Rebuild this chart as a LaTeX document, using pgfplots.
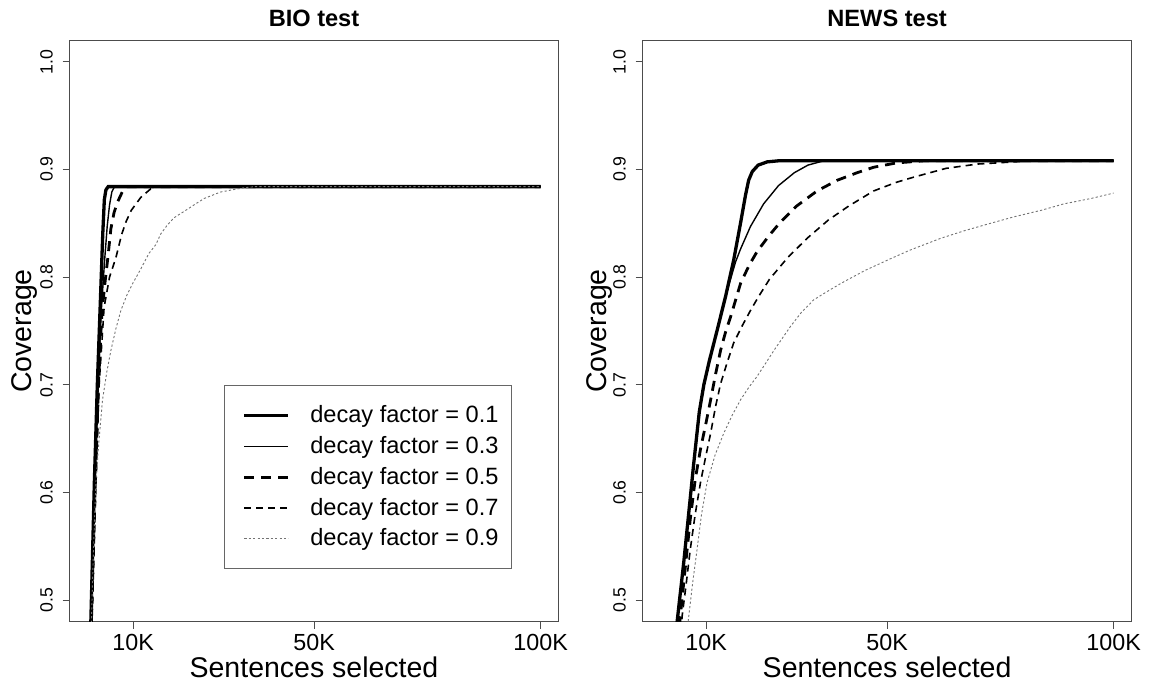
\documentclass[border=0pt]{standalone}
\usepackage{pgfplots}
\pgfplotsset{compat=1.18}
\usepackage{fontspec}
\setmainfont{Liberation Sans}
\begin{document}
\begin{tikzpicture}
\useasboundingbox (0,0) rectangle (577pt,342pt);
\pgfplotsset{
  panel/.style={
    scale only axis, width=244.5pt, height=290.75pt,
    xmin=-4, xmax=104, ymin=0.48, ymax=1.02,
    axis line style={black!70, line width=0.5pt},
    xtick={10,50,100}, xticklabels={10K,50K,100K},
    ytick={0.5,0.6,0.7,0.8,0.9,1.0}, yticklabels={0.5,0.6,0.7,0.8,0.9,1.0},
    tick align=outside, major tick length=3.5pt, tick pos=left,
    tick style={black!70, line width=0.5pt},
    xticklabel style={font=\fontsize{11.65pt}{12pt}\selectfont, anchor=base, inner sep=0pt},
    yticklabel style={font=\fontsize{8.85pt}{9pt}\selectfont, rotate=90, anchor=base, inner sep=0pt},
    xticklabel shift=10.65pt, yticklabel shift=5pt,
  },
  d1/.style={black, line width=1.65pt},
  d3/.style={black, line width=0.7pt},
  d5/.style={black, line width=1.4pt, dash pattern=on 5pt off 3.5pt},
  d7/.style={black, line width=0.8pt, dash pattern=on 3.5pt off 2.5pt},
  d9/.style={black!55, line width=0.45pt, dash pattern=on 1.1pt off 1.1pt},
}
\begin{axis}[panel, at={(34.85pt,31.15pt)},
  legend style={at={(0.3155,0.407)}, anchor=north west, draw=black!60, line width=0.5pt, fill=white,
    inner xsep=6.25pt, inner ysep=10pt, row sep=5.35pt, column sep=10.15pt,
    font=\fontsize{11.8pt}{14pt}\selectfont, nodes={inner sep=0pt}},
  legend cell align=left,
  legend image code/.code={\path (-2.85pt,0pt); \draw[#1] (0pt,0pt) -- (22pt,0pt);},
]
\addplot[d1] coordinates {(0.3,0.43) (0.67,0.48) (1.45,0.61) (2.1,0.70) (2.75,0.775) (3.3,0.84) (3.65,0.872) (4.0,0.881) (4.5,0.884) (100,0.884)};
\addlegendentry{decay factor = 0.1}
\addplot[d3] coordinates {(0.35,0.43) (0.72,0.48) (1.55,0.61) (2.25,0.70) (3.0,0.77) (3.7,0.815) (4.3,0.848) (4.8,0.867) (5.3,0.879) (5.9,0.884) (100,0.884)};
\addlegendentry{decay factor = 0.3}
\addplot[d5] coordinates {(0.4,0.43) (0.78,0.48) (1.65,0.61) (2.35,0.70) (3.1,0.766) (3.8,0.795) (4.4,0.817) (5.1,0.845) (5.8,0.860) (6.6,0.870) (7.6,0.879) (8.6,0.884) (100,0.884)};
\addlegendentry{decay factor = 0.5}
\addplot[d7] coordinates {(0.6,0.43) (0.95,0.48) (1.75,0.60) (2.5,0.70) (3.6,0.772) (4.8,0.800) (6.2,0.818) (7.5,0.840) (8.5,0.852) (9.6,0.862) (11.7,0.874) (13.9,0.882) (15.5,0.884) (100,0.884)};
\addlegendentry{decay factor = 0.7}
\addplot[d9] coordinates {(0.55,0.43) (0.8,0.48) (1.2,0.54) (1.78,0.609) (2.5,0.65) (3.25,0.686) (4.2,0.712) (5.1,0.732) (6.2,0.752) (7.3,0.769) (8.6,0.783) (9.9,0.794) (11.5,0.806) (13.5,0.822) (15.0,0.830) (16.1,0.840) (17.5,0.848) (19.0,0.855) (20.5,0.859) (22.0,0.863) (23.8,0.868) (25.7,0.873) (27.5,0.876) (29.3,0.879) (31.9,0.881) (34.5,0.883) (37,0.884) (100,0.884)};
\addlegendentry{decay factor = 0.9}
\end{axis}
\begin{axis}[panel, at={(321.35pt,31.15pt)}]
\addplot[d1] coordinates {(3.3,0.46) (3.6,0.48) (5.06,0.535) (6.17,0.581) (7.27,0.627) (8.5,0.675) (9.5,0.700) (10.7,0.722) (12.4,0.750) (14.3,0.782) (16.1,0.816) (17.6,0.850) (18.7,0.876) (19.4,0.890) (20.2,0.898) (21.5,0.904) (23.5,0.907) (26,0.908) (100,0.908)};
\addplot[d3] coordinates {(3.35,0.46) (3.65,0.48) (5.1,0.535) (6.2,0.581) (7.3,0.627) (8.5,0.673) (9.5,0.699) (10.7,0.722) (12.4,0.750) (13.5,0.768) (14.5,0.785) (15.4,0.798) (16.5,0.814) (17.6,0.826) (19.8,0.847) (22.7,0.868) (26,0.885) (29.5,0.897) (32.5,0.904) (36,0.908) (100,0.908)};
\addplot[d5] coordinates {(3.9,0.46) (4.3,0.485) (5.4,0.53) (6.5,0.575) (7.6,0.612) (8.75,0.640) (10.0,0.665) (11.0,0.686) (12.1,0.710) (13.2,0.732) (14.3,0.749) (15.4,0.763) (17.6,0.794) (19.5,0.811) (21.3,0.824) (24,0.839) (26.4,0.851) (30,0.866) (34.5,0.880) (39,0.890) (43.4,0.897) (47,0.902) (52,0.906) (58,0.908) (100,0.908)};
\addplot[d7] coordinates {(4.3,0.46) (4.7,0.485) (5.6,0.515) (6.5,0.547) (7.6,0.58) (8.75,0.609) (9.9,0.633) (11.0,0.655) (12.1,0.68) (13.2,0.701) (14.6,0.72) (16.1,0.739) (18,0.755) (19.8,0.769) (21.6,0.782) (24,0.798) (28,0.818) (32.3,0.836) (37,0.853) (41.5,0.866) (47,0.880) (52,0.888) (56,0.893) (63,0.901) (70,0.905) (78,0.907) (82,0.908) (100,0.908)};
\addplot[d9] coordinates {(5.5,0.46) (6.17,0.485) (7.0,0.515) (8.0,0.547) (9.0,0.58) (10.2,0.609) (12,0.635) (13.9,0.655) (15.8,0.672) (17.6,0.686) (19.5,0.698) (21.3,0.708) (25,0.732) (28.6,0.754) (31,0.767) (33.8,0.779) (36.5,0.786) (39.7,0.794) (45,0.806) (50.7,0.817) (55,0.825) (61.8,0.836) (67,0.843) (72,0.849) (78,0.856) (84,0.862) (89,0.868) (95,0.873) (100,0.878)};
\end{axis}
\node[font=\bfseries\fontsize{11.8pt}{12pt}\selectfont, anchor=base] at (157pt,328.9pt) {BIO test};
\node[font=\bfseries\fontsize{11.8pt}{12pt}\selectfont, anchor=base] at (443.55pt,328.9pt) {NEWS test};
\node[font=\fontsize{14.25pt}{15pt}\selectfont, anchor=base] at (157pt,3.35pt) {Sentences selected};
\node[font=\fontsize{14.25pt}{15pt}\selectfont, anchor=base] at (443.55pt,3.35pt) {Sentences selected};
\node[font=\fontsize{14.25pt}{15pt}\selectfont, rotate=90, anchor=base] at (15.75pt,176.5pt) {Coverage};
\node[font=\fontsize{14.25pt}{15pt}\selectfont, rotate=90, anchor=base] at (303pt,176.5pt) {Coverage};
\end{tikzpicture}
\end{document}
